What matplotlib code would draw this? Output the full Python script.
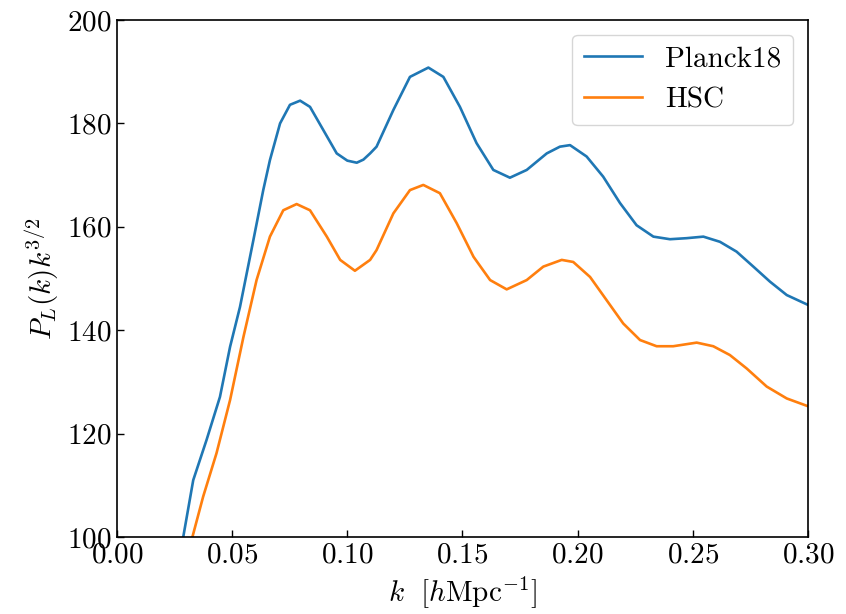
""" Linear power spectrum times k^{3/2}: Planck18 vs HSC """
import matplotlib
matplotlib.use("Agg")
import matplotlib.pyplot as plt

# values
k_planck = [0.0288, 0.0331, 0.0389, 0.0447, 0.0491, 0.0534, 0.0592, 0.0635, 0.0664,
            0.0708, 0.0751, 0.0795, 0.0838, 0.0896, 0.0954, 0.1000, 0.1041, 0.1070,
            0.1099, 0.1127, 0.1200, 0.1272, 0.1352, 0.1417, 0.1489, 0.1561, 0.1634,
            0.1706, 0.1779, 0.1866, 0.1923, 0.1967, 0.2039, 0.2111, 0.2184, 0.2256,
            0.2329, 0.2401, 0.2473, 0.2546, 0.2618, 0.2690, 0.2763, 0.2835, 0.2908,
            0.3000]
p_planck = [100.1, 111.0, 118.8, 127.1, 136.8, 144.5, 157.4, 167.1, 172.9,
            180.0, 183.6, 184.4, 183.2, 178.7, 174.2, 172.8, 172.4, 173.0,
            174.2, 175.5, 182.6, 189.0, 190.8, 189.0, 183.2, 176.2, 171.0,
            169.5, 171.0, 174.2, 175.5, 175.8, 173.6, 169.7, 164.6, 160.3,
            158.1, 157.6, 157.8, 158.1, 157.1, 155.2, 152.3, 149.4, 146.8,
            144.9]

k_hsc = [0.0328, 0.0374, 0.0432, 0.0491, 0.0549, 0.0606, 0.0664, 0.0722, 0.0780,
         0.0838, 0.0911, 0.0969, 0.1033, 0.1099, 0.1127, 0.1200, 0.1272, 0.1330,
         0.1402, 0.1475, 0.1548, 0.1620, 0.1692, 0.1779, 0.1851, 0.1931, 0.1981,
         0.2054, 0.2126, 0.2198, 0.2271, 0.2343, 0.2415, 0.2517, 0.2589, 0.2661,
         0.2734, 0.2821, 0.2908, 0.3000]
p_hsc = [100.1, 107.8, 116.2, 126.5, 138.7, 149.7, 158.1, 163.2, 164.4,
         163.2, 158.1, 153.6, 151.5, 153.6, 155.5, 162.6, 167.1, 168.1,
         166.5, 160.7, 154.2, 149.7, 147.9, 149.7, 152.3, 153.6, 153.2,
         150.3, 145.8, 141.3, 138.1, 136.9, 136.9, 137.6, 136.9, 135.2,
         132.6, 129.1, 126.8, 125.3]

xticks = [0.00, 0.05, 0.10, 0.15, 0.20, 0.25, 0.30]
yticks = [100, 120, 140, 160, 180, 200]

plt.rcParams['font.family'] = 'serif'
plt.rcParams['font.serif'] = ['cmr10']
plt.rcParams['mathtext.fontset'] = 'cm'
plt.rcParams['axes.formatter.use_mathtext'] = True
plt.rcParams['font.size'] = 21

fig = plt.figure(figsize=(8.46, 6.14), dpi=100)
ax = fig.add_axes([0.1383, 0.1254, 0.8167, 0.842])

ax.plot(k_planck, p_planck, color='#1f77b4', lw=1.9, label='Planck18')
ax.plot(k_hsc, p_hsc, color='#ff7f0e', lw=1.9, label='HSC')

ax.set_xlim(0, 0.30)
ax.set_ylim(100, 200)
ax.set_xticks(xticks)
ax.set_yticks(yticks)
ax.tick_params(direction='in', length=5, width=1.0, pad=4)
for s in ax.spines.values():
    s.set_linewidth(1.2)

ax.set_xlabel(r'$k\ \ [h\mathrm{Mpc}^{-1}]$', labelpad=4)
ax.set_ylabel(r'$P_L(k)k^{3/2}$', labelpad=4)
ax.legend(loc='upper right')

fig.savefig('out.png', dpi=100)
